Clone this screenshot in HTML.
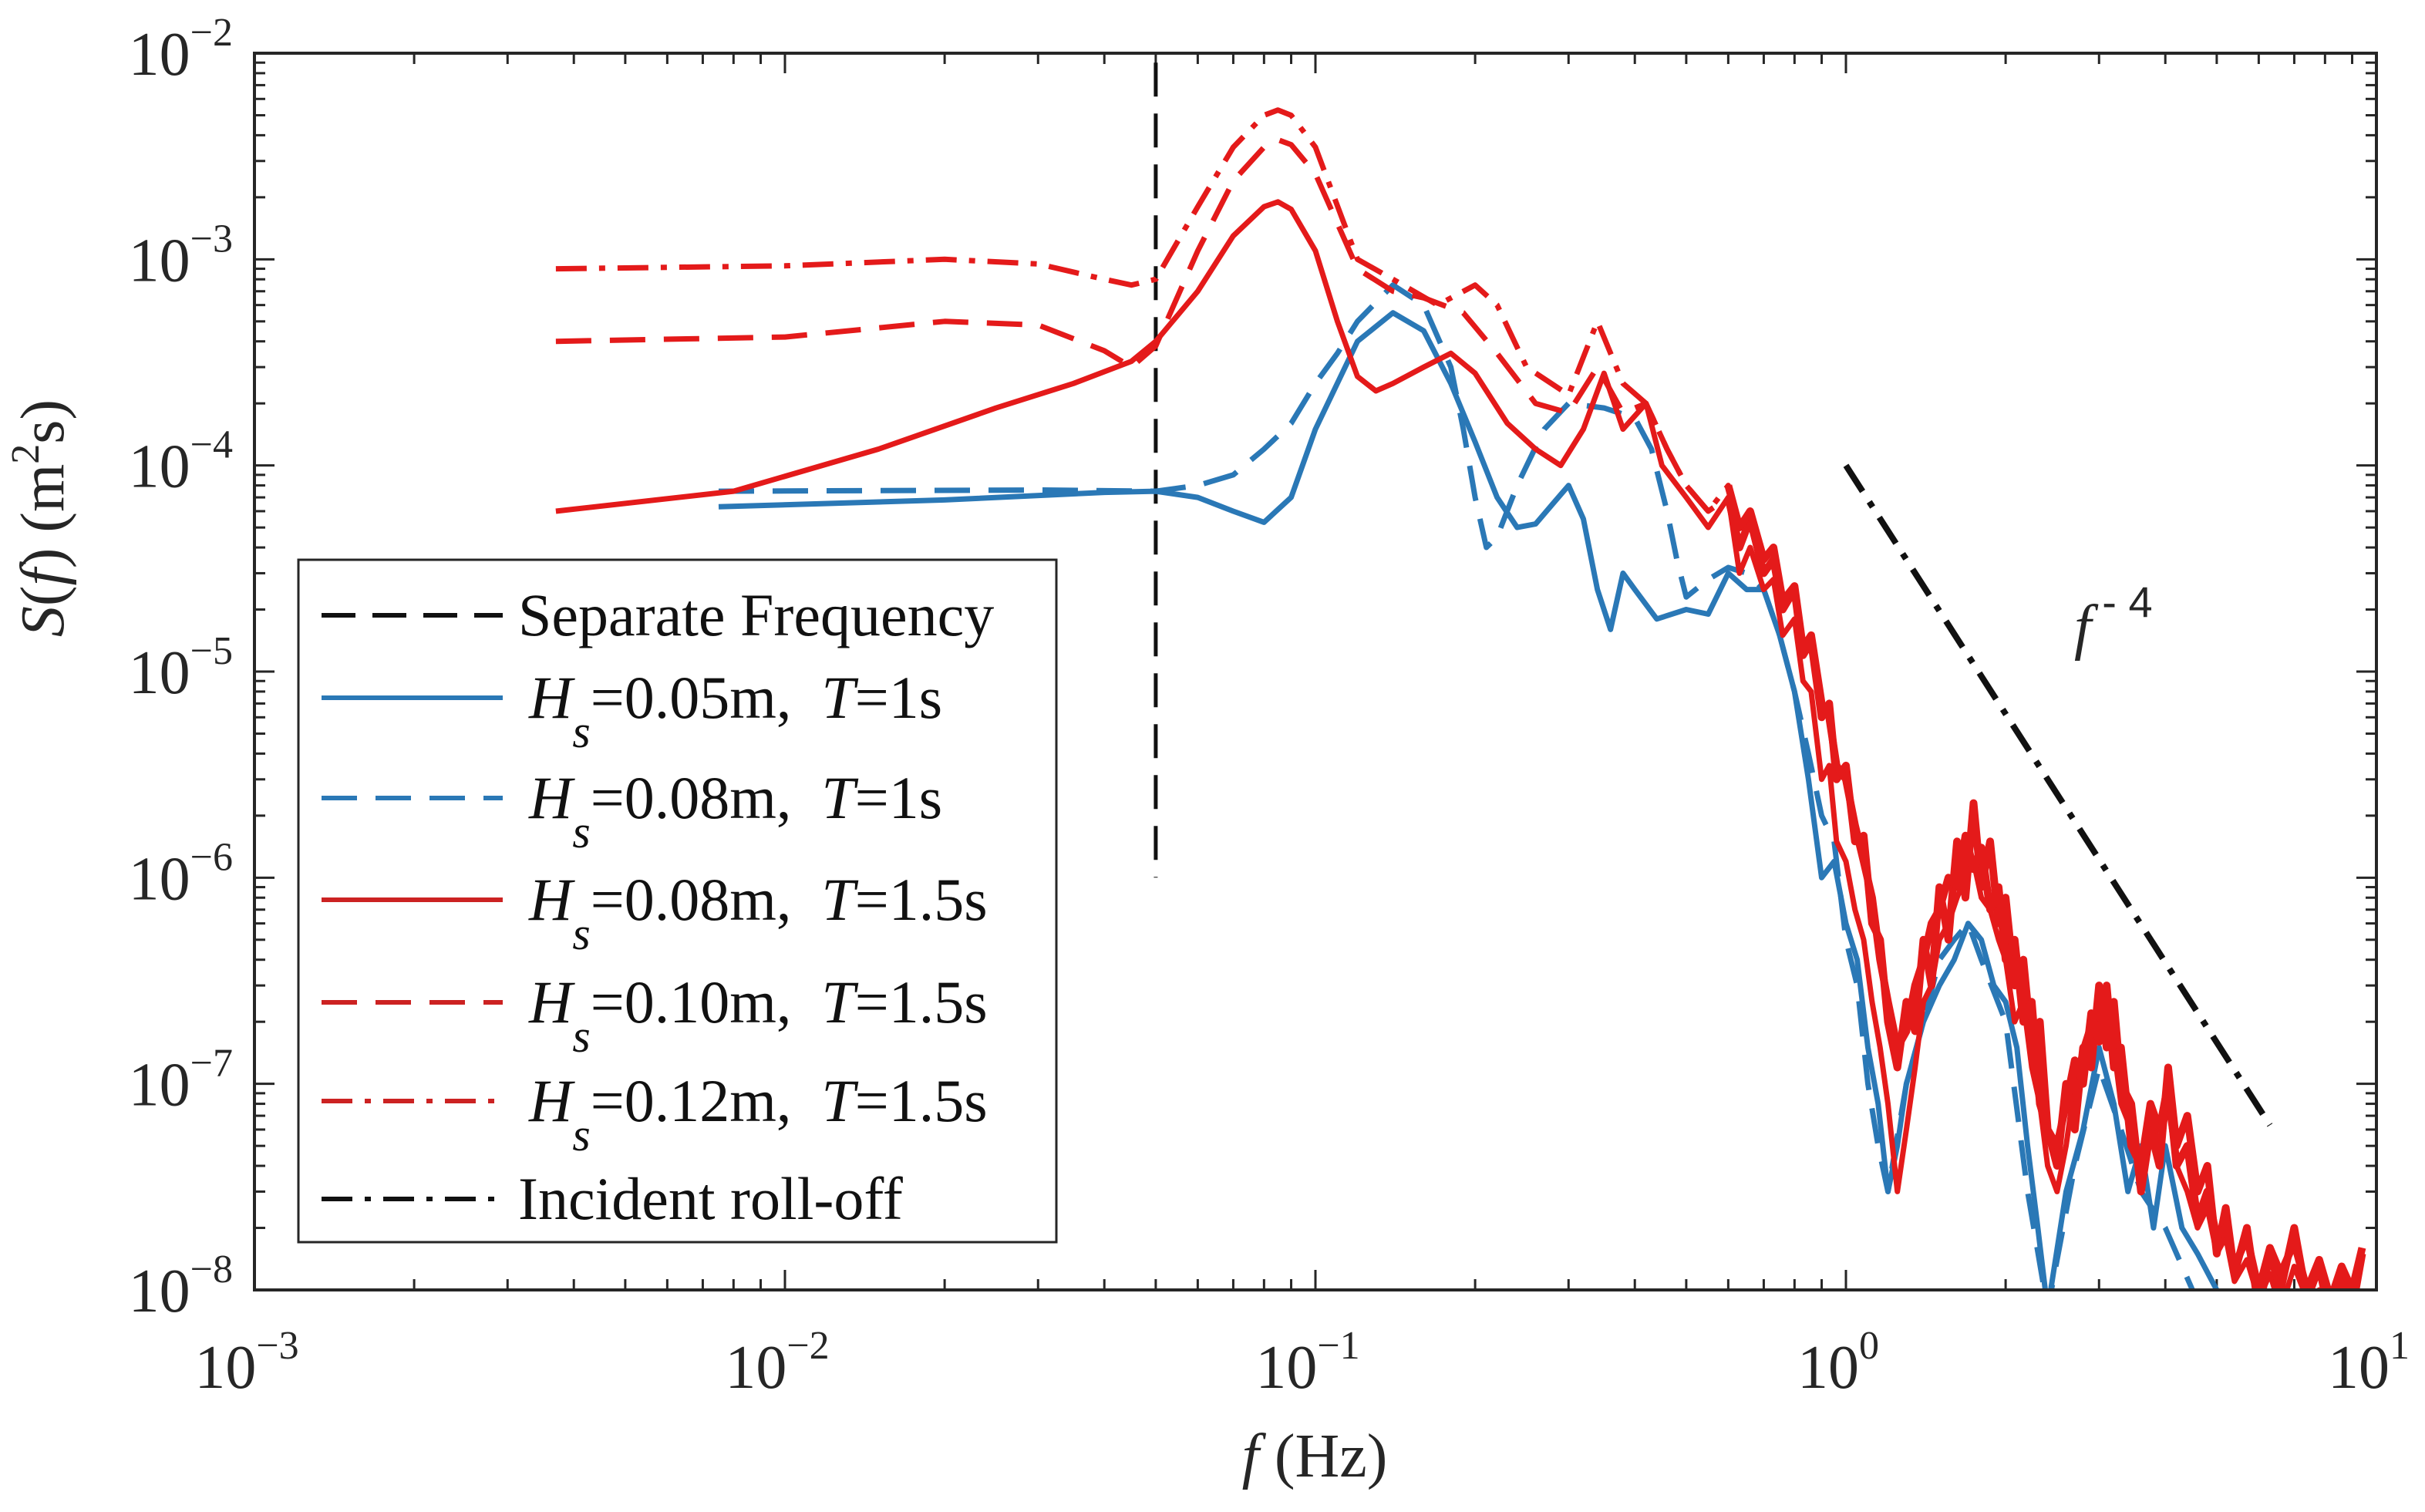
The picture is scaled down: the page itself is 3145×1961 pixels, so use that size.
<!DOCTYPE html>
<html><head><meta charset="utf-8">
<style>
html,body{margin:0;padding:0;background:#fff;}
svg{display:block;font-family:"Liberation Serif",serif;}
</style></head>
<body>
<svg id="chart" width="3145" height="1961" viewBox="0 0 3145 1961" xmlns="http://www.w3.org/2000/svg">
<defs><clipPath id="plotclip"><rect x="330" y="69" width="2752" height="1604"/></clipPath></defs>
<g id="grid-ticks"></g>
<g id="series" clip-path="url(#plotclip)"></g>
<rect x="330" y="69" width="2752" height="1604" fill="none" stroke="#262626" stroke-width="4"/>
<g id="labels"></g>
<text x="1705" y="1915" text-anchor="middle" font-size="80" fill="#262626"><tspan font-style="italic">f</tspan> (Hz)</text>
<text transform="translate(82,672) rotate(-90)" text-anchor="middle" font-size="80" fill="#262626"><tspan font-style="italic">S</tspan>(<tspan font-style="italic">f</tspan>) (m<tspan font-size="52" dy="-32">2</tspan><tspan dy="32">s)</tspan></text>
<text x="2690" y="840" font-size="80" fill="#262626"><tspan font-style="italic">f</tspan><tspan font-size="56" dx="14" dy="-40" font-family="Liberation Sans, sans-serif">- 4</tspan></text>
<g id="legend">
<rect x="387" y="726" width="983" height="885" fill="#fff" stroke="#262626" stroke-width="3"/>
</g>
</svg>
<script>
// ---- data ----
const sepF = 0.05;
const sepS = [9e-3, 1e-6];
const rollF = [1, 6.3];
const rollS = [1e-4, 6.3e-8];
const xTickExp = [-3, -2, -1, 0, 1];
const yTickExp = [-8, -7, -6, -5, -4, -3, -2];

const blueSolidF = [0.0075,0.02,0.04,0.05,0.06,0.07,0.08,0.09,0.1,0.12,0.14,0.16,0.18,0.2,0.22,0.24,0.26,0.28,0.3,0.32,0.34,0.36,0.38,0.4,0.44,0.5,0.55,0.6,0.65,0.7,0.75,0.8,0.85,0.9,0.95,1.0,1.05,1.1,1.15,1.2,1.25,1.3,1.4,1.5,1.6,1.7,1.8,1.9,2.0,2.1,2.2,2.3,2.4,2.6,2.8,3.0,3.2,3.4,3.6,3.8,4.0,4.3,4.6,5.0];
const blueSolidS = [6.3e-5,6.8e-5,7.4e-5,7.5e-5,7e-5,6e-5,5.3e-5,7e-5,1.5e-4,4e-4,5.5e-4,4.5e-4,2.5e-4,1.3e-4,7e-5,5e-5,5.2e-5,6.5e-5,8e-5,5.5e-5,2.5e-5,1.6e-5,3e-5,2.5e-5,1.8e-5,2e-5,1.9e-5,3e-5,2.5e-5,2.5e-5,1.5e-5,8e-6,3e-6,1e-6,1.2e-6,6e-7,4e-7,1.5e-7,8e-8,3e-8,5e-8,1e-7,2e-7,3e-7,4e-7,6e-7,5e-7,3e-7,2.5e-7,1.5e-7,5e-8,2e-8,8e-9,3e-8,6e-8,1.5e-7,8e-8,3e-8,5e-8,2e-8,5e-8,2e-8,1.5e-8,1e-8];

const blueDashF = [0.0075,0.03,0.05,0.06,0.07,0.08,0.09,0.1,0.11,0.12,0.14,0.16,0.18,0.19,0.2,0.21,0.22,0.24,0.27,0.3,0.35,0.4,0.43,0.46,0.48,0.5,0.55,0.6,0.65,0.7,0.75,0.8,0.85,0.9,0.95,1.0,1.05,1.1,1.15,1.2,1.3,1.4,1.5,1.6,1.7,1.8,2.0,2.2,2.4,2.7,3.0,3.3,3.6,4.0,4.5];
const blueDashS = [7.5e-5,7.6e-5,7.5e-5,8e-5,9e-5,1.2e-4,1.6e-4,2.5e-4,3.5e-4,5e-4,7.5e-4,6e-4,3e-4,1.5e-4,7e-5,4e-5,4.5e-5,8e-5,1.5e-4,2e-4,1.9e-4,1.7e-4,1.2e-4,6e-5,3.5e-5,2.3e-5,2.8e-5,3.2e-5,3e-5,2.5e-5,1.5e-5,8e-6,4e-6,2e-6,1.5e-6,5e-7,3e-7,1e-7,5e-8,3e-8,1e-7,2e-7,4e-7,5e-7,6e-7,4e-7,2e-7,3e-8,8e-9,4e-8,1.2e-7,6e-8,3e-8,2e-8,1e-8];

const redSolidF = [0.0037,0.008,0.015,0.025,0.035,0.045,0.05,0.06,0.07,0.08,0.085,0.09,0.1,0.11,0.12,0.13,0.14,0.16,0.18,0.2,0.23,0.26,0.29,0.32,0.35,0.38,0.42,0.45,0.5,0.55];
const redSolidS = [6e-5,7.5e-5,1.2e-4,1.9e-4,2.5e-4,3.2e-4,4e-4,7e-4,1.3e-3,1.8e-3,1.9e-3,1.75e-3,1.1e-3,5e-4,2.7e-4,2.3e-4,2.5e-4,3e-4,3.5e-4,2.8e-4,1.6e-4,1.2e-4,1e-4,1.5e-4,2.8e-4,1.5e-4,2e-4,1e-4,7e-5,5e-5];

const redDashF = [0.0037,0.01,0.02,0.03,0.04,0.045,0.05,0.06,0.07,0.08,0.085,0.09,0.1,0.12,0.14,0.16,0.19,0.22,0.26,0.3,0.34,0.38,0.42,0.46,0.5,0.55];
const redDashS = [4e-4,4.2e-4,5e-4,4.8e-4,3.6e-4,3e-4,3.8e-4,1.1e-3,2.4e-3,3.5e-3,3.8e-3,3.6e-3,2.6e-3,9e-4,7e-4,6.5e-4,5.5e-4,3.5e-4,2e-4,1.8e-4,3e-4,1.8e-4,2e-4,1.2e-4,8e-5,6e-5];

const redDotF = [0.0037,0.01,0.02,0.03,0.04,0.045,0.05,0.06,0.07,0.08,0.085,0.09,0.1,0.12,0.14,0.17,0.2,0.22,0.25,0.3,0.34,0.38,0.42,0.46,0.5,0.55];
const redDotS = [9e-4,9.3e-4,1e-3,9.5e-4,8e-4,7.5e-4,8e-4,1.8e-3,3.5e-3,5e-3,5.3e-3,5e-3,3.5e-3,1e-3,8e-4,6e-4,7.5e-4,6e-4,3e-4,2.2e-4,5e-4,2.5e-4,2e-4,1.2e-4,8e-5,6e-5];

const hfF = [0.6,0.63,0.66,0.7,0.73,0.76,0.8,0.83,0.86,0.9,0.93,0.96,1.0,1.04,1.08,1.12,1.16,1.2,1.25,1.3,1.35,1.4,1.45,1.5,1.56,1.62,1.68,1.74,1.8,1.87,1.94,2.0,2.08,2.16,2.24,2.32,2.4,2.5,2.6,2.7,2.8,2.9,3.0,3.1,3.2,3.3,3.45,3.6,3.75,3.9,4.05,4.2,4.4,4.6,4.8,5.0,5.2,5.4,5.7,6.0,6.3,6.6,7.0,7.4,7.8,8.2,8.6,9.0,9.4];
const redSolidHF = [7e-5,3e-5,4e-5,2.5e-5,2.8e-5,1.5e-5,1.8e-5,9e-6,8e-6,3e-6,3.5e-6,1.5e-6,1.2e-6,7e-7,5e-7,2.5e-7,1.5e-7,8e-8,3e-8,6e-8,1.2e-7,2.5e-7,3e-7,5e-7,6e-7,8e-7,1e-6,1.2e-6,8e-7,7e-7,5e-7,4e-7,2e-7,2.5e-7,1.2e-7,8e-8,4e-8,3e-8,5e-8,1e-7,1.5e-7,2e-7,2.5e-7,1.8e-7,1.5e-7,8e-8,6e-8,4e-8,7e-8,5e-8,8e-8,4e-8,3e-8,2e-8,2.5e-8,1.5e-8,1.8e-8,1.1e-8,1.4e-8,9e-9,1.2e-8,8e-9,1.3e-8,9e-9,1e-8,7e-9,9e-9,8e-9,1e-8];
const redDashHF = [7e-5,4e-5,5.5e-5,3e-5,3.5e-5,2e-5,2.5e-5,1.2e-5,1.4e-5,6e-6,7e-6,3e-6,3.5e-6,1.5e-6,1.6e-6,6e-7,5e-7,2e-7,1.2e-7,2.5e-7,1.8e-7,5e-7,3e-7,9e-7,5e-7,1.5e-6,8e-7,2.3e-6,9e-7,1.5e-6,6e-7,8e-7,3e-7,4e-7,1.5e-7,2e-7,6e-8,4e-8,1e-7,6e-8,1.5e-7,1.2e-7,3e-7,1.5e-7,2.5e-7,1e-7,8e-8,3e-8,6e-8,4e-8,1.2e-7,5e-8,7e-8,3e-8,4e-8,1.5e-8,2.5e-8,1.2e-8,2e-8,8e-9,1.5e-8,1e-8,2e-8,9e-9,1.3e-8,7e-9,1.2e-8,8e-9,1.5e-8];
const redDotHF = [8e-5,5e-5,6e-5,3.5e-5,4e-5,2.2e-5,2.6e-5,1.3e-5,1.5e-5,7e-6,6e-6,3.5e-6,3e-6,1.8e-6,1.2e-6,8e-7,4e-7,2.5e-7,1.5e-7,1.8e-7,3e-7,4e-7,6e-7,7e-7,1e-6,9e-7,1.6e-6,1.1e-6,1.4e-6,7e-7,9e-7,4e-7,5e-7,2e-7,2.5e-7,8e-8,6e-8,5e-8,8e-8,1.3e-7,1e-7,2.2e-7,1.6e-7,3e-7,1.2e-7,1.5e-7,5e-8,4e-8,8e-8,6e-8,1e-7,4e-8,5e-8,2.2e-8,3e-8,1.8e-8,2e-8,1.3e-8,1.8e-8,1e-8,1.6e-8,1.2e-8,1.7e-8,1e-8,1.4e-8,9e-9,1.3e-8,1e-8,1.6e-8];

// ---- axes ----
const X0=330, X1=3082, Y0=1673, Y1=69;
function xs(f){ return X0 + (Math.log10(f)+3)/4*(X1-X0); }
function ys(s){ return Y0 - (Math.log10(s)+8)/6*(Y0-Y1); }
const NS="http://www.w3.org/2000/svg";
function mk(tag, attrs, parent){ const e=document.createElementNS(NS,tag); for(const k in attrs) e.setAttribute(k,attrs[k]); parent.appendChild(e); return e; }

const tg=document.getElementById('grid-ticks');
const lg=document.getElementById('labels');
const AX="#262626";
for(let e=-3;e<=1;e++){
  for(let m=1;m<=9;m++){
    if(e===1 && m>1) break;
    const x=xs(m*Math.pow(10,e)); const L=m===1?26:14;
    const t1=mk('line',{x1:x,x2:x,y1:Y0,y2:Y0-L,stroke:AX,'stroke-width':3},tg);
    
    
    const t2=mk('line',{x1:x,x2:x,y1:Y1,y2:Y1+L,stroke:AX,'stroke-width':3},tg);
    
    
  }
}
xTickExp.forEach(e=>{
  const t=mk('text',{x:xs(Math.pow(10,e))-10,y:1800,'text-anchor':'middle','font-size':80,fill:AX},lg);
  
  
  t.innerHTML='10<tspan font-size="52" dy="-38">'+(e<0?'\u2212'+(-e):e)+'</tspan>';
});
for(let e=-8;e<=-2;e++){
  for(let m=1;m<=9;m++){
    if(e===-2 && m>1) break;
    const y=ys(m*Math.pow(10,e)); const L=m===1?26:14;
    const t1=mk('line',{x1:X0,x2:X0+L,y1:y,y2:y,stroke:AX,'stroke-width':3},tg);
    
    
    const t2=mk('line',{x1:X1,x2:X1-L,y1:y,y2:y,stroke:AX,'stroke-width':3},tg);
    
    
  }
}
yTickExp.forEach(e=>{
  const t=mk('text',{x:302,y:ys(Math.pow(10,e))+28,'text-anchor':'end','font-size':80,fill:AX},lg);
  
  
  t.innerHTML='10<tspan font-size="52" dy="-38">\u2212'+(-e)+'</tspan>';
});

// ---- series ----
const sg=document.getElementById('series');
const BLUE="#2a78b6", RED="#e41a1a";
const DASH="46 24", DOT="40 16 8 16";
function line(F,S,color,dash,w,name){
  const n=Math.min(F.length,S.length); let d='';
  for(let i=0;i<n;i++) d+=(i?'L':'M')+xs(F[i]).toFixed(1)+','+ys(S[i]).toFixed(1);
  const p=mk('path',{d:d,fill:'none',stroke:color,'stroke-width':w,'stroke-linejoin':'round'},sg);
  if(dash) p.setAttribute('stroke-dasharray',dash);
  
  
}
line([sepF,sepF],sepS,'#111',"44 22",5,'separate-frequency-line');
line(blueSolidF,blueSolidS,BLUE,null,7,'series-hs005-t1');
line(blueDashF,blueDashS,BLUE,DASH,7,'series-hs008-t1');
line(redSolidF.concat(hfF),redSolidS.concat(redSolidHF),RED,null,7,'series-hs008-t15');
line(redDashF.concat(hfF),redDashS.concat(redDashHF),RED,DASH,7,'series-hs010-t15');
line(redDotF.concat(hfF),redDotS.concat(redDotHF),RED,DOT,7,'series-hs012-t15');
line(hfF,redDashHF,RED,null,10,'series-hs010-t15-hf-band');
line(hfF,redDotHF,RED,null,10,'series-hs012-t15-hf-band');
line(rollF,rollS,'#111',"40 16 8 16",8,'incident-rolloff-line');

// ---- legend ----
const leg=document.getElementById('legend');
const entries=[
 {c:'#111',d:"44 22",t:'Separate Frequency',hs:null},
 {c:BLUE,d:null,hs:'0.05',T:'1'},
 {c:BLUE,d:DASH,hs:'0.08',T:'1'},
 {c:'#cc2222',d:null,hs:'0.08',T:'1.5'},
 {c:'#cc2222',d:DASH,hs:'0.10',T:'1.5'},
 {c:'#cc2222',d:DOT,hs:'0.12',T:'1.5'},
 {c:'#111',d:"40 16 8 16",t:'Incident roll-off',hs:null}
];
const rowsY=[798,905,1035,1167,1300,1428,1555];
entries.forEach((en,i)=>{
  const y=rowsY[i];
  const l=mk('line',{x1:417,x2:652,y1:y,y2:y,stroke:en.c,'stroke-width':6},leg);
  if(en.d) l.setAttribute('stroke-dasharray',en.d);
  
  
  const t=mk('text',{x:672,y:y+26,'font-size':78,fill:'#111'},leg);
  
  
  if(en.hs===null) t.textContent=en.t;
  else t.innerHTML='<tspan font-style="italic" dx="14">H</tspan><tspan font-style="italic" font-size="60" dy="38">s</tspan><tspan dy="-38">='+en.hs+'m,\u00a0\u00a0</tspan><tspan font-style="italic">T</tspan>='+en.T+'s';
});
</script>
</body></html>
